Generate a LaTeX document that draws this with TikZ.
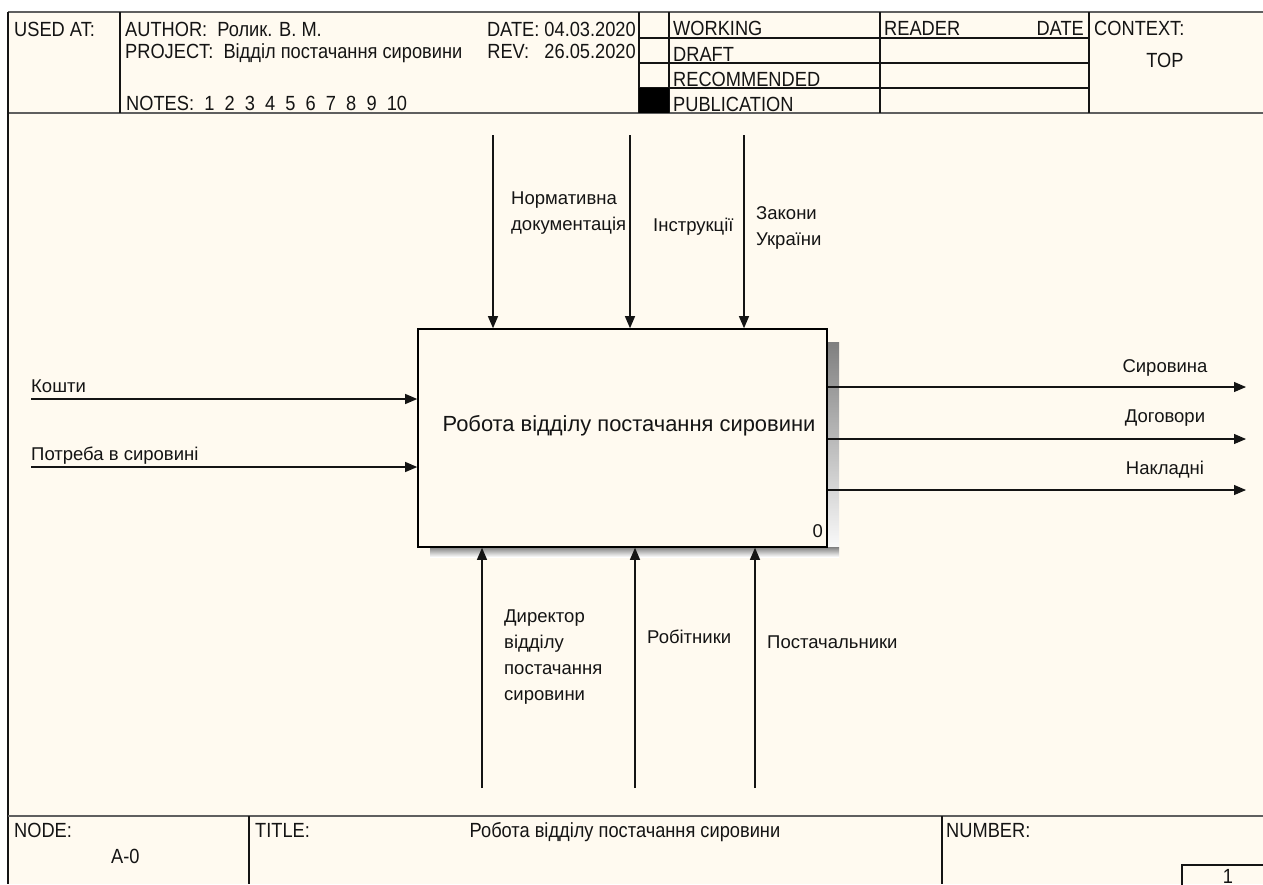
\documentclass[tikz,border=0pt]{standalone}
\usepackage{fontspec}
\setmainfont{Liberation Sans}
\newfontfamily\narrowfont[FakeStretch=0.89]{Liberation Sans}
\usetikzlibrary{arrows.meta}

\definecolor{paper}{RGB}{255,250,240}
\definecolor{ink}{RGB}{20,20,20}
\definecolor{rulegray}{RGB}{95,95,95}
\definecolor{shade}{RGB}{168,168,168}

\begin{document}
\begin{tikzpicture}[x=1pt,y=-1pt,
  frameline/.style={draw=ink, line width=1.1pt},
  thickrule/.style={draw=rulegray, line width=2pt},
  flow/.style={draw=ink, line width=1.1pt, -{Triangle[length=12pt,width=10pt]}},
  lbl/.style={inner sep=0pt, text=ink, font=\fontsize{18.5}{26}\selectfont, align=left},
  hdr/.style={inner sep=0pt, text=ink, font=\narrowfont\fontsize{20.5}{22}\selectfont},
  func/.style={draw=black, line width=1.6pt, fill=paper, minimum width=409pt,
    minimum height=218pt, inner sep=0pt},
]
\useasboundingbox (0,0) rectangle (1263,884);
\fill[white] (0,0) rectangle (1263,884);
\fill[paper] (8,12) rectangle (1263,884);

% ---------- header frame ----------
\draw[thickrule] (8,12) -- (1263,12);
\draw[thickrule] (8,113) -- (1263,113);
\draw[frameline] (8,12) -- (8,884);
\draw[frameline] (120,12) -- (120,113);
\draw[frameline] (639,12) -- (639,113);
\draw[frameline] (669,12) -- (669,113);
\draw[frameline] (880,12) -- (880,113);
\draw[frameline] (1089,12) -- (1089,113);
\foreach \yy in {38,63,88} \draw[frameline] (639,\yy) -- (1089,\yy);
\fill[black] (639,88) rectangle (669,113);

% ---------- header texts ----------
\node[hdr, anchor=base west] (usedat) at (14,36) {USED AT:};
\node[hdr, anchor=base west] (author) at (125,36) {AUTHOR:\ \ Ролик. В. М.};
\node[hdr, anchor=base west] (project) at (125,58) {PROJECT:\ \ Відділ постачання сировини};
\node[hdr, anchor=base east] (date) at (636,36) {DATE: 04.03.2020};
\node[hdr, anchor=base east] (rev) at (636,58) {REV:\ \ \ 26.05.2020};
\node[hdr, anchor=base west] (notes) at (126,110) {NOTES:\ \ 1\ \ 2\ \ 3\ \ 4\ \ 5\ \ 6\ \ 7\ \ 8\ \ 9\ \ 10};
\node[hdr, anchor=base west] (working) at (673,35) {WORKING};
\node[hdr, anchor=base west] (draft) at (673,61) {DRAFT};
\node[hdr, anchor=base west] (recommended) at (673,86) {RECOMMENDED};
\node[hdr, anchor=base west] (publication) at (673,111) {PUBLICATION};
\node[hdr, anchor=base west] (reader) at (884,35) {READER};
\node[hdr, anchor=base east] (rdate) at (1084,35) {DATE};
\node[hdr, anchor=base west] (context) at (1094,35) {CONTEXT:};
\node[hdr, anchor=base] (top) at (1165,67) {TOP};

% ---------- footer ----------
\draw[thickrule] (8,816) -- (1263,816);
\draw[frameline] (249,816) -- (249,884);
\draw[frameline] (942,816) -- (942,884);
\draw[frameline] (1182,890) -- (1182,865) -- (1270,865);
\node[hdr, anchor=base west] (nodelbl) at (14,837) {NODE:};
\node[hdr, anchor=base west] (nodeval) at (111,863) {A-0};
\node[hdr, anchor=base west] (titlelbl) at (255,837) {TITLE:};
\node[hdr, anchor=base] (titleval) at (625,837) {Робота відділу постачання сировини};
\node[hdr, anchor=base west] (numberlbl) at (946,837) {NUMBER:};
\node[hdr, anchor=base] (numberval) at (1228,883) {1};

% ---------- activity box with its shadow ----------
\fill[shade] (827,342) rectangle (839,557);
\fill[shade] (430,547) rectangle (839,557);
\node[func] (fn) at (622.5,438) {};
\node[lbl, font=\fontsize{21.9}{24}\selectfont, anchor=base] (fntext) at (629,431) {Робота відділу постачання сировини};
\node[lbl, anchor=base east] (fnnum) at (823,537) {0};

% ---------- controls ----------
\coordinate (c1) at (493,135);
\coordinate (c2) at (630,135);
\coordinate (c3) at (744,135);
\draw[flow] (c1) -- (c1 |- fn.north);
\draw[flow] (c2) -- (c2 |- fn.north);
\draw[flow] (c3) -- (c3 |- fn.north);
\node[lbl, anchor=north west] (c1lbl) at (511,191.7) {Нормативна\\документація};
\node[lbl, anchor=base west] (c2lbl) at (653,231) {Інструкції};
\node[lbl, anchor=north west] (c3lbl) at (756,206.7) {Закони\\України};

% ---------- inputs ----------
\coordinate (i1) at (31,399);
\coordinate (i2) at (31,467);
\draw[flow] (i1) -- (i1 -| fn.west);
\draw[flow] (i2) -- (i2 -| fn.west);
\node[lbl, anchor=base west] (i1lbl) at (31,392) {Кошти};
\node[lbl, anchor=base west] (i2lbl) at (31,460) {Потреба в сировині};

% ---------- outputs ----------
\coordinate (o1) at (1246,387);
\coordinate (o2) at (1246,439);
\coordinate (o3) at (1246,490);
\draw[flow] (fn.east |- o1) -- (o1);
\draw[flow] (fn.east |- o2) -- (o2);
\draw[flow] (fn.east |- o3) -- (o3);
\node[lbl, anchor=base] (o1lbl) at (1165,372) {Сировина};
\node[lbl, anchor=base] (o2lbl) at (1165,422) {Договори};
\node[lbl, anchor=base] (o3lbl) at (1165,474) {Накладні};

% ---------- mechanisms ----------
\coordinate (m1) at (482,788);
\coordinate (m2) at (635,788);
\coordinate (m3) at (755,788);
\draw[flow] (m1) -- (m1 |- fn.south);
\draw[flow] (m2) -- (m2 |- fn.south);
\draw[flow] (m3) -- (m3 |- fn.south);
\node[lbl, anchor=north west] (m1lbl) at (504,609.7) {Директор\\відділу\\постачання\\сировини};
\node[lbl, anchor=base west] (m2lbl) at (647,643) {Робітники};
\node[lbl, anchor=base west] (m3lbl) at (767,648) {Постачальники};
\end{tikzpicture}
\end{document}
